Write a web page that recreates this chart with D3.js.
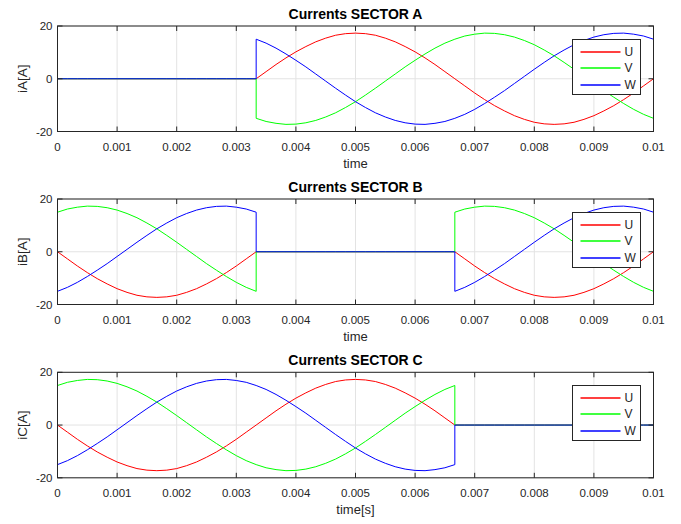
<!DOCTYPE html>
<html>
<head>
<meta charset="utf-8">
<script src="https://cdn.jsdelivr.net/npm/d3@7"></script>
<style>
  html, body { margin: 0; padding: 0; background: #fff; }
  svg { display: block; }
</style>
</head>
<body>
<div id="chart"></div>
<script>
// sample grid: 61 samples over 0..0.01 s (sector switches at samples 20 and 40)
const time = d3.range(61).map(k => k / 6000);

// phase currents (A), one value per sample
const iU = [0, -2.7, -5.4, -7.9, -10.2, -12.2, -14.0, -15.4, -16.5, -17.1, -17.3, -17.1, -16.5, -15.4, -14.0, -12.2, -10.2, -7.9, -5.4, -2.7,
  0, 2.7, 5.4, 7.9, 10.2, 12.2, 14.0, 15.4, 16.5, 17.1, 17.3, 17.1, 16.5, 15.4, 14.0, 12.2, 10.2, 7.9, 5.4, 2.7,
  0, -2.7, -5.4, -7.9, -10.2, -12.2, -14.0, -15.4, -16.5, -17.1, -17.3, -17.1, -16.5, -15.4, -14.0, -12.2, -10.2, -7.9, -5.4, -2.7, 0];
const iV = [15.0, 16.2, 16.9, 17.3, 17.2, 16.7, 15.8, 14.5, 12.9, 10.9, 8.7, 6.2, 3.6, 0.9, -1.8, -4.5, -7.0, -9.4, -11.6, -13.5,
  -15.0, -16.2, -16.9, -17.3, -17.2, -16.7, -15.8, -14.5, -12.9, -10.9, -8.7, -6.2, -3.6, -0.9, 1.8, 4.5, 7.0, 9.4, 11.6, 13.5,
  15.0, 16.2, 16.9, 17.3, 17.2, 16.7, 15.8, 14.5, 12.9, 10.9, 8.7, 6.2, 3.6, 0.9, -1.8, -4.5, -7.0, -9.4, -11.6, -13.5, -15.0];
const iW = [-15.0, -13.5, -11.6, -9.4, -7.0, -4.5, -1.8, 0.9, 3.6, 6.2, 8.7, 10.9, 12.9, 14.5, 15.8, 16.7, 17.2, 17.3, 16.9, 16.2,
  15.0, 13.5, 11.6, 9.4, 7.0, 4.5, 1.8, -0.9, -3.6, -6.2, -8.7, -10.9, -12.9, -14.5, -15.8, -16.7, -17.2, -17.3, -16.9, -16.2,
  -15.0, -13.5, -11.6, -9.4, -7.0, -4.5, -1.8, 0.9, 3.6, 6.2, 8.7, 10.9, 12.9, 14.5, 15.8, 16.7, 17.2, 17.3, 16.9, 16.2, 15.0];

const phaseNames = ["U", "V", "W"];
const phaseColors = ["#ff0000", "#00ff00", "#0000ff"];
const phaseValues = [iU, iV, iW];

// which sample ranges carry current in each sector (on) and which are zero (off)
const sectorTitles = ["Currents SECTOR A", "Currents SECTOR B", "Currents SECTOR C"];
const sectorYLabels = ["iA[A]", "iB[A]", "iC[A]"];
const sectorXLabels = ["time", "time", "time[s]"];
const sectorPieces = [
  [[false, 0, 20], [true, 20, 60]],
  [[true, 0, 20], [false, 20, 40], [true, 40, 60]],
  [[true, 0, 40], [false, 40, 60]]
];

const xTicks = [0, 0.001, 0.002, 0.003, 0.004, 0.005, 0.006, 0.007, 0.008, 0.009, 0.01];
const xTickLabels = ["0", "0.001", "0.002", "0.003", "0.004", "0.005", "0.006", "0.007", "0.008", "0.009", "0.01"];
const yTicks = [-20, 0, 20];

const W = 681, H = 524;
const FONT = "'Liberation Sans', Arial, Helvetica, sans-serif";
const AXIS = "#262626";
const left = 57.5, right = 653.5;
const panelTop = [26, 199, 372.3];
const panelH = 105.5;

const svg = d3.select("#chart").append("svg").attr("width", W).attr("height", H);
const x = d3.scaleLinear().domain([0, 0.01]).range([left, right]);

sectorTitles.forEach((title, si) => {
  const top = panelTop[si], bottom = top + panelH;
  const y = d3.scaleLinear().domain([-20, 20]).range([bottom, top]);
  const g = svg.append("g");

  // grid
  g.selectAll(".gx").data(xTicks).join("line")
    .attr("x1", d => x(d)).attr("x2", d => x(d)).attr("y1", top).attr("y2", bottom)
    .attr("stroke", "#e3e3e3").attr("stroke-width", 1);
  g.selectAll(".gy").data(yTicks).join("line")
    .attr("x1", left).attr("x2", right).attr("y1", d => y(d)).attr("y2", d => y(d))
    .attr("stroke", "#e3e3e3").attr("stroke-width", 1);

  // curves
  const clipId = "clip" + si;
  svg.append("clipPath").attr("id", clipId).append("rect")
    .attr("x", left).attr("y", top - 1).attr("width", right - left).attr("height", panelH + 2);
  const line = d3.line().x(d => x(d[0])).y(d => y(d[1]));
  const lines = g.append("g").attr("clip-path", `url(#${clipId})`);
  phaseValues.forEach((vals, pi) => {
    const pts = [];
    sectorPieces[si].forEach(([on, a, b]) => {
      for (let k = a; k <= b; k++) pts.push([time[k], on ? vals[k] : 0]);
    });
    lines.append("path").attr("d", line(pts))
      .attr("fill", "none").attr("stroke", phaseColors[pi]).attr("stroke-width", 1);
  });

  // box + inward ticks
  g.append("rect").attr("x", left).attr("y", top).attr("width", right - left).attr("height", panelH)
    .attr("fill", "none").attr("stroke", AXIS).attr("stroke-width", 1);
  xTicks.forEach(t => {
    g.append("line").attr("x1", x(t)).attr("x2", x(t)).attr("y1", bottom).attr("y2", bottom - 5).attr("stroke", AXIS);
    g.append("line").attr("x1", x(t)).attr("x2", x(t)).attr("y1", top).attr("y2", top + 5).attr("stroke", AXIS);
  });
  yTicks.forEach(v => {
    g.append("line").attr("x1", left).attr("x2", left + 5).attr("y1", y(v)).attr("y2", y(v)).attr("stroke", AXIS);
    g.append("line").attr("x1", right).attr("x2", right - 5).attr("y1", y(v)).attr("y2", y(v)).attr("stroke", AXIS);
  });

  // tick labels
  g.selectAll(".xl").data(xTicks).join("text")
    .attr("x", d => x(d)).attr("y", bottom + 19.5).attr("text-anchor", "middle")
    .attr("font-family", FONT).attr("font-size", "11.5px").attr("fill", AXIS)
    .text((d, i) => xTickLabels[i]);
  g.selectAll(".yl").data(yTicks).join("text")
    .attr("x", left - 5).attr("y", d => y(d) + 4).attr("text-anchor", "end")
    .attr("font-family", FONT).attr("font-size", "11.5px").attr("fill", AXIS)
    .text(d => d);

  // labels + title
  g.append("text").attr("x", (left + right) / 2).attr("y", bottom + 36.5).attr("text-anchor", "middle")
    .attr("font-family", FONT).attr("font-size", "13px").attr("fill", AXIS).text(sectorXLabels[si]);
  g.append("text").attr("transform", `translate(26.5,${(top + bottom) / 2}) rotate(-90)`)
    .attr("text-anchor", "middle").attr("font-family", FONT).attr("font-size", "13.5px")
    .attr("fill", AXIS).text(sectorYLabels[si]);
  g.append("text").attr("x", (left + right) / 2).attr("y", top - 7.5).attr("text-anchor", "middle")
    .attr("font-family", FONT).attr("font-size", "14px").attr("font-weight", "bold")
    .attr("fill", "#000").text(title);

  // legend
  const lgTop = Math.round(top + 13) + 0.5;
  const lg = g.append("g").attr("transform", `translate(572.5,${lgTop})`);
  lg.append("rect").attr("width", 68).attr("height", 55)
    .attr("fill", "#fff").attr("stroke", AXIS).attr("stroke-width", 1);
  phaseNames.forEach((name, pi) => {
    const ry = Math.round(11.5 + pi * 16.5) + 0.5;
    lg.append("line").attr("x1", 8).attr("x2", 48).attr("y1", ry).attr("y2", ry)
      .attr("stroke", phaseColors[pi]).attr("stroke-width", 1.3);
    lg.append("text").attr("x", 52).attr("y", ry + 4)
      .attr("font-family", FONT).attr("font-size", "12px").attr("fill", AXIS).text(name);
  });
});
</script>
</body>
</html>
